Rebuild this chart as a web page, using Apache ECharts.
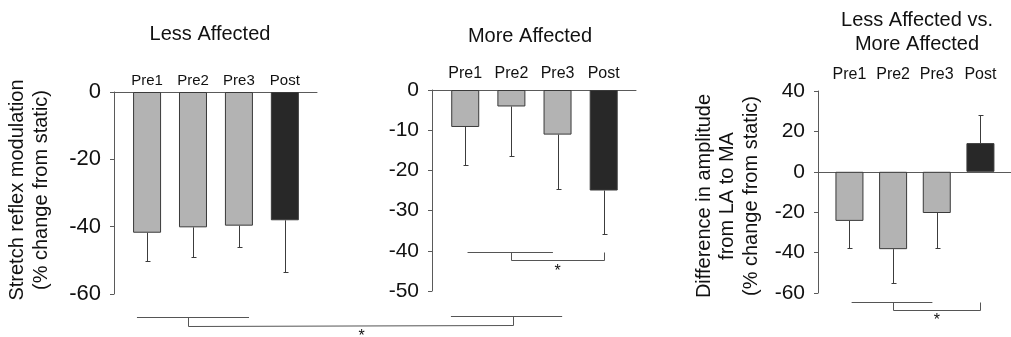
<!DOCTYPE html>
<html>
<head>
<meta charset="utf-8">
<script src="https://cdn.jsdelivr.net/npm/echarts@6/dist/echarts.min.js"></script>
<style>
  html, body { margin: 0; padding: 0; background: #ffffff; }
  #chart { width: 1011px; height: 337px; }
</style>
</head>
<body>
<div id="chart"></div>
<script>
// Sessions shown on every panel
const categories = ['Pre1', 'Pre2', 'Pre3', 'Post'];

// Less affected limb: stretch reflex modulation (% change from static), mean and SD
const lessMean = [-41.8, -40.2, -39.7, -38.1];
const lessSD = [8.5, 8.7, 6.2, 15.4];

// More affected limb
const moreMean = [-9.2, -4.1, -11.1, -25.0];
const moreSD = [9.4, 12.3, 13.5, 10.9];

// Difference in amplitude from LA to MA
const diffMean = [-24.3, -38.3, -20.4, 14.2];
const diffSD = [13.5, 16.8, 17.4, 13.7];

// Value axis ranges [min, max, interval]
const lessAxis = [-60, 0, 20];
const moreAxis = [-50, 0, 10];
const diffAxis = [-60, 40, 20];

// Significance brackets, in each panel's data units:
// a line across [from, to] at y1, a drop at `drop` down to y2, across to `target`, up to y1
const moreBracket = { from: 0.05, to: 1.9, drop: 1, target: 3, y1: -40.4, y2: -42.4, star: [2.0, -44.1] };
const diffBracket = { from: 0.05, to: 1.9, drop: 1, target: 3, y1: -64.5, y2: -68.3, star: [2.0, -71.6] };
// Bracket joining the Less and More Affected panels
const crossLeft = { from: -0.22, to: 2.22, drop: 0.9, y1: -66.9, y2: -69.5 };
const crossRight = { from: -0.31, to: 2.1, drop: 1.03, y1: -56.1, y2: -58.4 };
const crossStar = [4.67, -71.6];

const FONT = '"Liberation Sans", Arial, sans-serif';
const TEXT = '#111111';
const AXIS = '#5a5a5a';
const LIGHT = '#b3b3b3';
const DARK = '#282828';
const EDGE = '#3a3a3a';
const X_MIN = -0.72, X_MAX = 3.7;

const panels = [
  { mean: lessMean, sd: lessSD, axis: lessAxis,
    grid: { left: 114, top: 92, width: 203, height: 202 },
    tickSize: 22, catSize: 15, catMargin: 4,
    name: 'Stretch reflex modulation\n(% change from static)', nameGap: 61, namePad: [0, 0, 0, 6] },
  { mean: moreMean, sd: moreSD, axis: moreAxis,
    grid: { left: 432, top: 90, width: 204, height: 201 },
    tickSize: 21, catSize: 16, catMargin: 8 },
  { mean: diffMean, sd: diffSD, axis: diffAxis,
    grid: { left: 818, top: 91, width: 203, height: 202 },
    tickSize: 21, catSize: 16, catMargin: 8,
    name: 'Difference in amplitude\nfrom LA to MA\n(% change from static)', nameGap: 55, namePad: [0, 8, 0, 0] }
];

const grid = [], xAxis = [], yAxis = [], series = [];

panels.forEach((p, k) => {
  grid.push(Object.assign({ containLabel: false }, p.grid));

  // category labels along the top
  xAxis.push({
    type: 'value', gridIndex: k, position: 'top', min: X_MIN, max: X_MAX,
    axisLine: { show: false, onZero: false },
    axisTick: { show: false },
    splitLine: { show: false },
    axisLabel: {
      customValues: [0, 1, 2, 3],
      formatter: v => categories[Math.round(v)] || '',
      fontSize: p.catSize, fontFamily: FONT, color: TEXT, margin: p.catMargin
    }
  });
  // zero line
  xAxis.push({
    type: 'value', gridIndex: k, min: X_MIN, max: X_MAX,
    axisLine: { show: true, onZero: true, lineStyle: { color: AXIS, width: 1 } },
    axisTick: { show: false },
    axisLabel: { show: false },
    splitLine: { show: false }
  });

  const y = {
    type: 'value', gridIndex: k, min: p.axis[0], max: p.axis[1], interval: p.axis[2],
    axisLine: { show: true, onZero: false, lineStyle: { color: AXIS, width: 1 } },
    axisTick: { show: true, inside: false, length: 4, lineStyle: { color: AXIS, width: 1 } },
    splitLine: { show: false },
    axisLabel: { fontSize: p.tickSize, fontFamily: FONT, color: TEXT, margin: 13 }
  };
  if (p.name) {
    Object.assign(y, {
      name: p.name, nameLocation: 'middle', nameGap: p.nameGap,
      nameTextStyle: { fontSize: 20, fontFamily: FONT, color: TEXT, lineHeight: 23.5, padding: p.namePad }
    });
  }
  yAxis.push(y);

  series.push({
    type: 'bar', xAxisIndex: 2 * k, yAxisIndex: k, barWidth: 28,
    silent: true,
    itemStyle: { borderColor: EDGE, borderWidth: 1 },
    data: p.mean.map((v, i) => ({
      value: [i, v],
      itemStyle: { color: categories[i] === 'Post' ? DARK : LIGHT }
    }))
  });

  // one-sided SD whiskers, pointing away from zero
  series.push({
    type: 'custom', xAxisIndex: 2 * k, yAxisIndex: k, clip: false, silent: true, z: 3,
    data: p.mean.map((v, i) => [i, v, v + Math.sign(v) * p.sd[i]]),
    renderItem(params, api) {
      const a = api.coord([api.value(0), api.value(1)]);
      const b = api.coord([api.value(0), api.value(2)]);
      const x = Math.round(a[0]) + 0.5;
      const yb = Math.round(b[1]) + 0.5;
      const st = { stroke: '#3c3c3c', lineWidth: 1 };
      return {
        type: 'group',
        children: [
          { type: 'line', shape: { x1: x, y1: a[1], x2: x, y2: yb }, style: st },
          { type: 'line', shape: { x1: x - 2, y1: yb, x2: x + 3, y2: yb }, style: st }
        ]
      };
    }
  });
});

const titleStyle = { fontSize: 20, fontWeight: 'normal', fontFamily: FONT, color: TEXT, lineHeight: 23.5 };

const chart = echarts.init(document.getElementById('chart'), null, { renderer: 'canvas' });
chart.setOption({
  animation: false,
  backgroundColor: '#ffffff',
  title: [
    { text: 'Less Affected', left: 205, top: 18, textAlign: 'center', textStyle: titleStyle },
    { text: 'More Affected', left: 525, top: 20, textAlign: 'center', textStyle: titleStyle },
    { text: 'Less Affected vs.\nMore Affected', left: 912, top: 4, textAlign: 'center', textStyle: titleStyle }
  ],
  grid, xAxis, yAxis, series
});

// Significance brackets placed from data coordinates of each panel
function px(k, pt) {
  return chart.convertToPixel({ xAxisIndex: 2 * k, yAxisIndex: k }, pt);
}
const snap = v => Math.round(v) + 0.5;
const lineStyle = { stroke: '#555555', lineWidth: 1, fill: null };
const graphic = [];

function hLine(k, x0, x1, y) {
  const a = px(k, [x0, y]), b = px(k, [x1, y]);
  graphic.push({ type: 'line', shape: { x1: a[0], y1: snap(a[1]), x2: b[0], y2: snap(b[1]) }, style: lineStyle, silent: true });
}
function star(k, pt) {
  const c = px(k, pt);
  graphic.push({
    type: 'text', x: c[0], y: c[1] + 4, silent: true,
    style: { text: '*', fontSize: 16, fontFamily: FONT, fill: TEXT, align: 'center', verticalAlign: 'middle' }
  });
}
function bracket(k, b) {
  hLine(k, b.from, b.to, b.y1);
  const p = [[b.drop, b.y1], [b.drop, b.y2], [b.target, b.y2], [b.target, b.y1]]
    .map(q => px(k, q)).map(q => [snap(q[0]), snap(q[1])]);
  graphic.push({ type: 'polyline', shape: { points: p }, style: lineStyle, silent: true });
  star(k, b.star);
}
bracket(1, moreBracket);
bracket(2, diffBracket);

hLine(0, crossLeft.from, crossLeft.to, crossLeft.y1);
hLine(1, crossRight.from, crossRight.to, crossRight.y1);
const cp = [
  px(0, [crossLeft.drop, crossLeft.y1]), px(0, [crossLeft.drop, crossLeft.y2]),
  px(1, [crossRight.drop, crossRight.y2]), px(1, [crossRight.drop, crossRight.y1])
].map(q => [snap(q[0]), snap(q[1])]);
graphic.push({ type: 'polyline', shape: { points: cp }, style: lineStyle, silent: true });
star(0, crossStar);

chart.setOption({ graphic });
</script>
</body>
</html>
